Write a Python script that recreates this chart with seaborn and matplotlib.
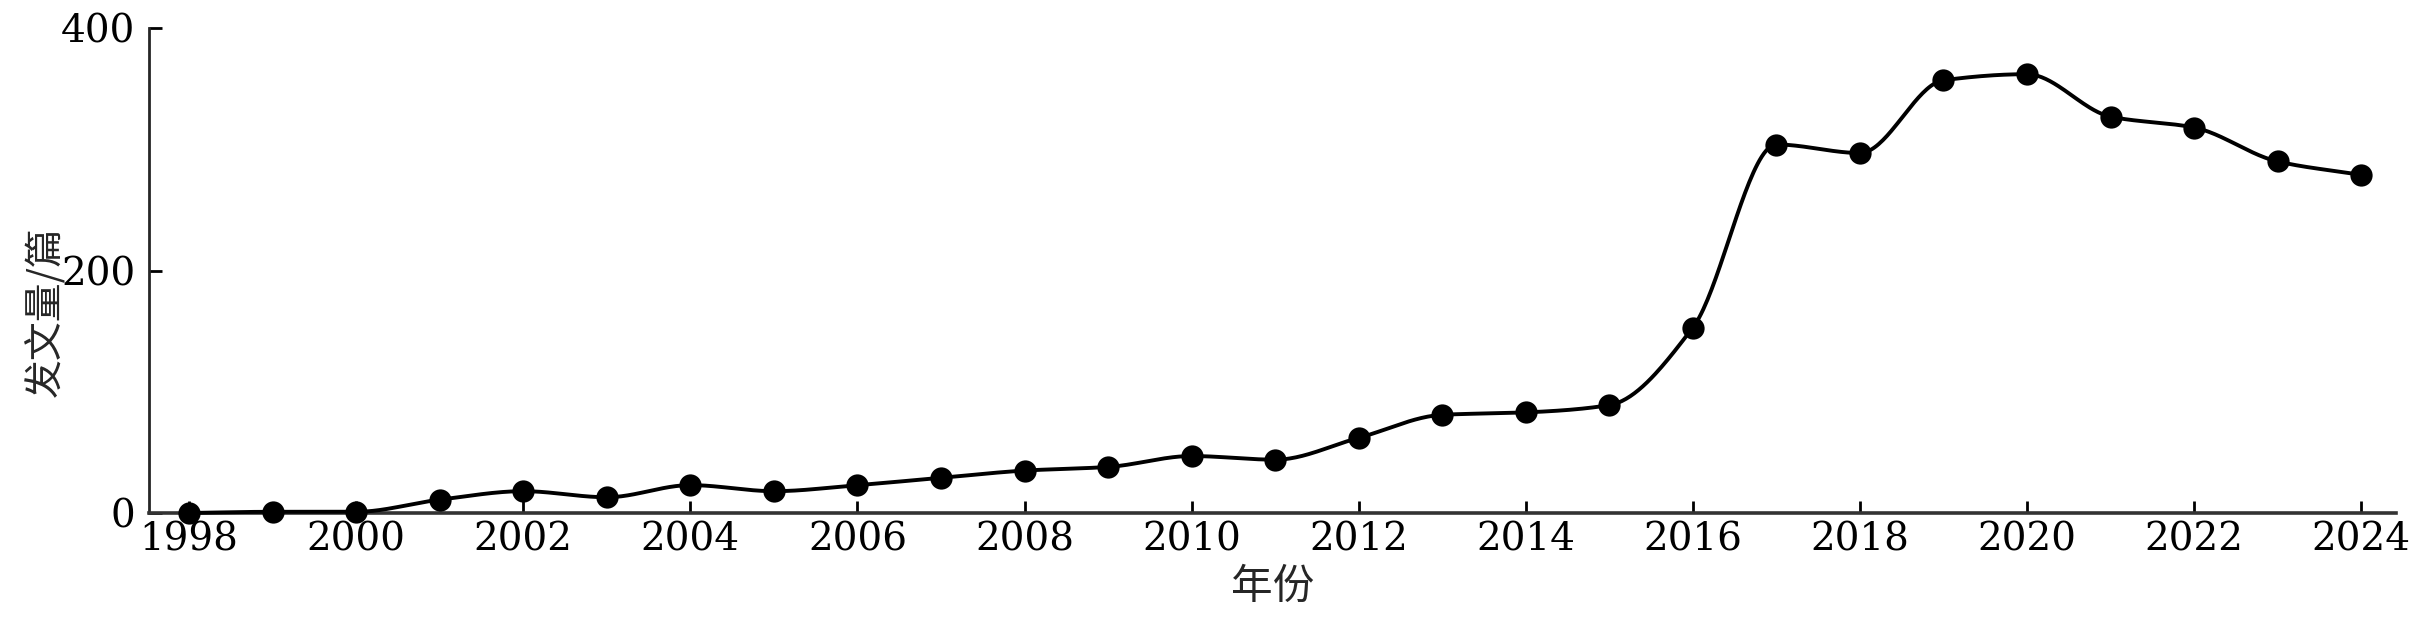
import numpy as np
import pandas as pd
import matplotlib
matplotlib.use("Agg")
import matplotlib.pyplot as plt
import seaborn as sns

years = list(range(1998, 2025))
papers = [0, 1, 1, 11, 18, 13, 23, 18, 23, 29, 35, 38, 47, 44, 62,
          81, 83, 89, 153, 304, 297, 357, 362, 327, 318, 290, 279]
xtick_years = list(range(1998, 2025, 2))
ytick_values = [0, 200, 400]
xlabel = "年份"
ylabel = "发文量/篇"


def smooth_path(x, y, n=40):
    # monotone cubic (PCHIP) so the line passes through every point without overshoot
    x = np.asarray(x, float)
    y = np.asarray(y, float)
    h = np.diff(x)
    delta = np.diff(y) / h
    d = np.zeros_like(y)
    for k in range(1, len(x) - 1):
        if delta[k - 1] * delta[k] > 0:
            w1 = 2 * h[k] + h[k - 1]
            w2 = h[k] + 2 * h[k - 1]
            d[k] = (w1 + w2) / (w1 / delta[k - 1] + w2 / delta[k])
    d[0] = delta[0]
    d[-1] = delta[-1]
    xs, ys = [], []
    for k in range(len(x) - 1):
        t = np.linspace(0, 1, n, endpoint=False)
        h00 = 2 * t**3 - 3 * t**2 + 1
        h10 = t**3 - 2 * t**2 + t
        h01 = -2 * t**3 + 3 * t**2
        h11 = t**3 - t**2
        xs.append(x[k] + t * h[k])
        ys.append(h00 * y[k] + h10 * h[k] * d[k] + h01 * y[k + 1] + h11 * h[k] * d[k + 1])
    xs.append([x[-1]])
    ys.append([y[-1]])
    return np.concatenate(xs), np.concatenate(ys)


sns.set_style("ticks")
plt.rcParams['font.family'] = ['DejaVu Serif', 'Noto Sans CJK SC', 'DejaVu Sans']
cjk = ['Noto Sans CJK SC', 'DejaVu Sans']

df = pd.DataFrame({"year": years, "papers": papers})
sx, sy = smooth_path(df.year, df.papers)
curve = pd.DataFrame({"year": sx, "papers": sy})

fig = plt.figure(figsize=(24.32, 6.31), dpi=100)
ax = fig.add_axes([0.0613, 0.187, 0.924, 0.7684])

sns.lineplot(data=curve, x="year", y="papers", color="black", linewidth=2.8,
             ax=ax, clip_on=False, zorder=4)
sns.scatterplot(data=df, x="year", y="papers", color="black", edgecolor="black",
                s=220, ax=ax, clip_on=False, zorder=5)

ax.set_xlim(1997.52, 2024.42)
ax.set_ylim(0, 400)
ax.set_xticks(xtick_years)
ax.set_yticks(ytick_values)
ax.tick_params(axis="both", direction="in", length=9, width=2, labelsize=28,
               colors="black")
ax.tick_params(axis="x", pad=6)
ax.tick_params(axis="y", pad=10)

sns.despine(ax=ax)
ax.spines["left"].set_linewidth(2)
ax.spines["bottom"].set_linewidth(2.6)
ax.spines["bottom"].set_color("#333333")

ax.set_xlabel(xlabel, fontsize=30, family=cjk, fontweight="medium", labelpad=6)
ax.set_ylabel(ylabel, fontsize=28, family=cjk, fontweight="medium")
ax.yaxis.set_label_coords(-0.037, 0.415)

fig.savefig("out.png", dpi=100)
